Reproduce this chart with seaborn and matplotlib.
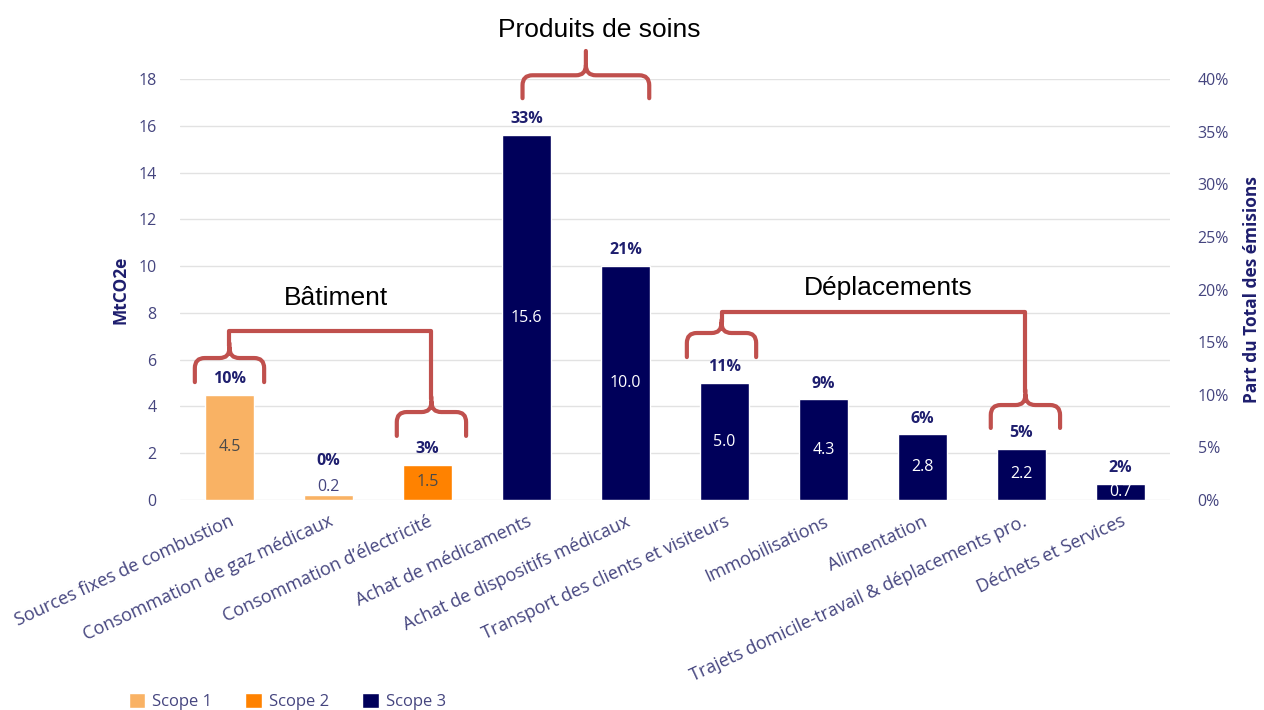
import matplotlib
matplotlib.use("Agg")
import matplotlib.pyplot as plt
from matplotlib.path import Path
from matplotlib.patches import PathPatch, Patch
import pandas as pd
import seaborn as sns

# data
categories = ["Sources fixes de combustion", "Consommation de gaz médicaux",
              "Consommation d’électricité", "Achat de médicaments",
              "Achat de dispositifs médicaux", "Transport des clients et visiteurs",
              "Immobilisations", "Alimentation",
              "Trajets domicile-travail & déplacements pro.", "Déchets et Services"]
values = [4.5, 0.2, 1.5, 15.6, 10.0, 5.0, 4.3, 2.8, 2.2, 0.7]
shares = [10, 0, 3, 33, 21, 11, 9, 6, 5, 2]
scopes = ["Scope 1", "Scope 1", "Scope 2", "Scope 3", "Scope 3",
          "Scope 3", "Scope 3", "Scope 3", "Scope 3", "Scope 3"]
pct_ticks = [0, 5, 10, 15, 20, 25, 30, 35, 40]

palette = {"Scope 1": "#F9B264", "Scope 2": "#FF8200", "Scope 3": "#00005A"}
navy = "#1E1E6E"
tick_col = "#45457F"
red = "#C0504D"

df = pd.DataFrame({"cat": categories, "val": values, "pct": shares, "scope": scopes})

sns.set_style("white")
plt.rcParams["font.family"] = ["Open Sans", "DejaVu Sans"]

fig = plt.figure(figsize=(12.64, 7.10), dpi=100)
ax = fig.add_axes([0.1424, 0.2958, 0.7832, 0.5929])
sns.barplot(data=df, x="cat", y="val", hue="scope", palette=palette,
            dodge=False, width=0.5, legend=False, ax=ax, saturation=1)

ax.set_ylim(0, 18)
ax.set_xlim(-0.5, 9.5)
ax.set_yticks(range(0, 19, 2))
ax.yaxis.grid(True, color="#E2E2E2", lw=1)
ax.set_axisbelow(True)
for s in ax.spines.values():
    s.set_visible(False)
ax.tick_params(axis="y", length=0, pad=17, labelsize=11.5, labelcolor=tick_col)
ax.tick_params(axis="x", length=0, pad=9)
ax.set_xticks(range(len(categories)))
ax.set_xticklabels(categories, rotation=25, ha="right", rotation_mode="anchor",
                   fontsize=13, color=tick_col)
ax.set_xlabel("")
ax.set_ylabel("MtCO2e", fontsize=12.5, fontweight="bold", color=navy, labelpad=6)

# right axis for share of total
ax2 = ax.twinx()
ax2.set_ylim(0, 40)
ax2.set_yticks(pct_ticks)
ax2.set_yticklabels([f"{p}%" for p in pct_ticks])
for s in ax2.spines.values():
    s.set_visible(False)
ax2.tick_params(axis="y", length=0, pad=20, labelsize=11.5, labelcolor=tick_col)
ax2.set_ylabel("Part du Total des émisions", fontsize=12.5, fontweight="bold",
               color=navy, labelpad=10)

# labels on bars
for i, (v, p, sc) in enumerate(zip(values, shares, scopes)):
    if v < 0.5:
        val_y, pct_y = 0.55, 1.65
    else:
        val_y, pct_y = v / 2, v + 0.68
    ax.text(i, pct_y, f"{p}%", ha="center", va="center",
            fontsize=11.5, fontweight="bold", color=navy)
    if sc == "Scope 3":
        col = "white"
    elif v < 0.5:
        col = tick_col
    else:
        col = "#4A4A4A"
    ax.text(i, val_y, f"{v:.1f}", ha="center", va="center",
            fontsize=11.5, color=col)


def brace(ax, xc, half, yb, yh, yt, rx=0.1, ry=0.43):
    x0, x1 = xc - half, xc + half
    verts = [(x0, yb), (x0, yh - ry), (x0, yh), (x0 + rx, yh),
             (xc - rx, yh), (xc, yh), (xc, yh + ry), (xc, yt),
             (xc, yh + ry), (xc, yh), (xc + rx, yh),
             (x1 - rx, yh), (x1, yh), (x1, yh - ry), (x1, yb)]
    codes = [Path.MOVETO, Path.LINETO, Path.CURVE3, Path.CURVE3,
             Path.LINETO, Path.CURVE3, Path.CURVE3, Path.LINETO,
             Path.MOVETO, Path.CURVE3, Path.CURVE3,
             Path.LINETO, Path.CURVE3, Path.CURVE3, Path.LINETO]
    ax.add_patch(PathPatch(Path(verts, codes), fill=False, edgecolor=red,
                           lw=3, capstyle="round", joinstyle="round", clip_on=False))


def link(ax, xa, ya, xb, yb, ytop):
    ax.plot([xa, xa, xb, xb], [ya, ytop, ytop, yb], color=red, lw=3,
            solid_joinstyle="round", clip_on=False)


# Bâtiment
brace(ax, 0, 0.35, 5.04, 6.07, 6.7)
brace(ax, 2.04, 0.35, 2.74, 3.76, 4.4)
link(ax, 0, 6.6, 2.04, 4.3, 7.22)
ax.text(1.08, 8.63, "Bâtiment", ha="center", va="center", fontsize=19,
        family="Liberation Sans", color="black")

# Produits de soins
brace(ax, 3.6, 0.64, 17.18, 18.16, 19.2)
ax.text(3.74, 20.1, "Produits de soins", ha="center", va="center", fontsize=19,
        family="Liberation Sans", color="black", clip_on=False)

# Déplacements
brace(ax, 4.97, 0.35, 6.11, 7.14, 7.7)
brace(ax, 8.04, 0.35, 3.08, 4.06, 4.7)
link(ax, 4.97, 7.6, 8.04, 4.6, 8.03)
ax.text(6.65, 9.06, "Déplacements", ha="center", va="center", fontsize=19,
        family="Liberation Sans", color="black")

handles = [Patch(facecolor=palette[s], label=s) for s in ["Scope 1", "Scope 2", "Scope 3"]]
fig.legend(handles=handles, loc="center left", bbox_to_anchor=(0.09, 0.012),
           ncol=3, frameon=False, fontsize=12, handlelength=1.0, handleheight=1.0,
           handletextpad=0.4, columnspacing=2.0, labelcolor=tick_col)

fig.savefig("out.png", dpi=100)
